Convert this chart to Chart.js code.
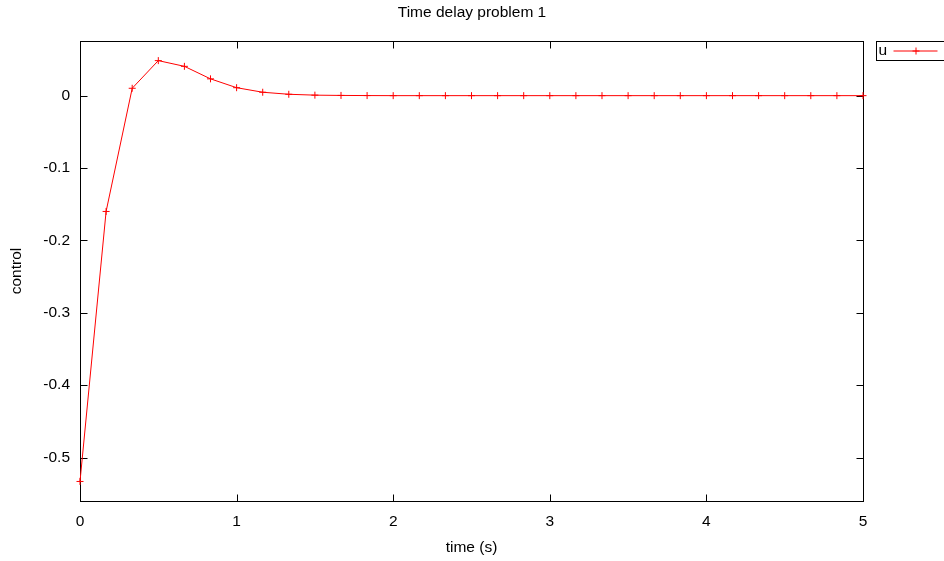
<!DOCTYPE html>
<html>
<head>
<meta charset="utf-8">
<title>Time delay problem 1</title>
<script src="https://cdn.jsdelivr.net/npm/chart.js@4/dist/chart.umd.min.js"></script>
<style>
  body { margin: 0; background: #fff; }
  canvas { display: block; }
</style>
</head>
<body>
<canvas id="chart" width="944" height="561"></canvas>
<script>
// time (s) of each sample
const timeValues = [
  0, 0.1667, 0.3333, 0.5, 0.6667, 0.8333, 1, 1.1667, 1.3333, 1.5, 1.6667,
  1.8333, 2, 2.1667, 2.3333, 2.5, 2.6667, 2.8333, 3, 3.1667, 3.3333,
  3.5, 3.6667, 3.8333, 4, 4.1667, 4.3333, 4.5, 4.6667, 4.8333, 5
];

// control u
const controlValues = [
  -0.533, -0.160, 0.0102, 0.0484, 0.0405, 0.0232, 0.0110, 0.0047, 0.0019, 0.0007, 0.0003,
  0.0001, 0, 0, 0, 0, 0, 0, 0, 0, 0,
  0, 0, 0, 0, 0, 0, 0, 0, 0, 0
];

const xTicks = [0, 1, 2, 3, 4, 5];
const yTicks = [0, -0.1, -0.2, -0.3, -0.4, -0.5];

const seriesLabel = 'u';
const FONT = { family: "'Liberation Sans', Arial, sans-serif", size: 15.5 };

document.addEventListener('DOMContentLoaded', () => {
  const canvas = document.getElementById('chart');

  // gnuplot style frame with inward ticks on all four sides
  const framePlugin = {
    id: 'frame',
    beforeDatasetsDraw(chart) {
      const ctx = chart.ctx;
      const a = chart.chartArea;
      const xs = chart.scales.x;
      const ys = chart.scales.y;
      const L = Math.round(a.left) + 0.5, R = Math.round(a.right) + 0.5;
      const T = Math.round(a.top) + 0.5, B = Math.round(a.bottom) + 0.5;
      ctx.save();
      ctx.strokeStyle = '#000';
      ctx.lineWidth = 1;
      ctx.strokeRect(L, T, R - L, B - T);
      ctx.beginPath();
      xs.ticks.forEach(t => {
        const px = Math.round(xs.getPixelForValue(t.value)) + 0.5;
        ctx.moveTo(px, B); ctx.lineTo(px, B - 7);
        ctx.moveTo(px, T); ctx.lineTo(px, T + 7);
      });
      ys.ticks.forEach(t => {
        const py = Math.round(ys.getPixelForValue(t.value)) + 0.5;
        ctx.moveTo(L, py); ctx.lineTo(L + 7, py);
        ctx.moveTo(R, py); ctx.lineTo(R - 7, py);
      });
      ctx.stroke();
      ctx.restore();
    },
    afterDraw(chart) {
      // key box outside the plot, top right
      const ctx = chart.ctx;
      const a = chart.chartArea;
      const ds = chart.data.datasets[0];
      const bx = Math.round(a.right) + 13.5;
      const by = Math.round(a.top) + 0.5;
      const midY = by + 9;
      ctx.save();
      ctx.strokeStyle = '#000';
      ctx.lineWidth = 1;
      ctx.strokeRect(bx, by, 120, 19);
      ctx.fillStyle = '#000';
      ctx.font = FONT.size + 'px ' + FONT.family;
      ctx.textAlign = 'left';
      ctx.textBaseline = 'middle';
      ctx.fillText(ds.label, bx + 2, midY);
      ctx.strokeStyle = ds.borderColor;
      ctx.beginPath();
      ctx.moveTo(bx + 17, midY + 0.5);
      ctx.lineTo(bx + 61, midY + 0.5);
      ctx.stroke();
      Chart.helpers.drawPoint(ctx, {
        pointStyle: ds.pointStyle,
        radius: ds.pointRadius,
        borderWidth: ds.pointBorderWidth
      }, bx + 39.5, midY + 0.5);
      ctx.restore();
    }
  };

  new Chart(canvas, {
    type: 'line',
    data: {
      datasets: [{
        label: seriesLabel,
        data: timeValues.map((t, i) => ({ x: t, y: controlValues[i] })),
        borderColor: 'rgb(255, 0, 0)',
        borderWidth: 1,
        pointStyle: 'cross',
        pointRadius: 3.5,
        pointBorderWidth: 1,
        pointBorderColor: 'rgb(255, 0, 0)',
        pointBackgroundColor: 'rgb(255, 0, 0)',
        tension: 0,
        clip: false
      }]
    },
    options: {
      responsive: false,
      animation: false,
      devicePixelRatio: 1,
      layout: { padding: 0 },
      plugins: {
        legend: { display: false },
        tooltip: { enabled: false },
        title: {
          display: true,
          text: 'Time delay problem 1',
          color: '#000',
          font: { ...FONT, weight: 'normal', lineHeight: 1.2 },
          padding: { top: 3, bottom: 19.4 }
        }
      },
      scales: {
        x: {
          type: 'linear',
          min: 0,
          max: 5,
          afterBuildTicks: scale => { scale.ticks = xTicks.map(v => ({ value: v })); },
          afterFit: scale => { scale.height = 60; },
          ticks: { color: '#000', font: FONT, padding: 11, maxRotation: 0 },
          grid: { display: false, drawTicks: false },
          border: { display: false },
          title: {
            display: true,
            text: 'time (s)',
            color: '#000',
            font: { ...FONT, lineHeight: 1.2 },
            padding: { top: 0, bottom: 4 }
          }
        },
        y: {
          type: 'linear',
          min: -0.56,
          max: 0.0755,
          afterBuildTicks: scale => { scale.ticks = yTicks.map(v => ({ value: v })); },
          afterFit: scale => { scale.width = 80; },
          ticks: { color: '#000', font: FONT, padding: 10 },
          grid: { display: false, drawTicks: false },
          border: { display: false },
          title: {
            display: true,
            text: 'control',
            color: '#000',
            font: { ...FONT, lineHeight: 1.2 },
            padding: { top: 7, bottom: 0 }
          }
        },
        // empty right-hand strip that holds the key, keeps the title centred on the page
        yKey: {
          type: 'linear',
          position: 'right',
          display: true,
          afterFit: scale => { scale.width = 81; },
          ticks: { display: false },
          grid: { display: false, drawTicks: false },
          border: { display: false }
        }
      }
    },
    plugins: [framePlugin]
  });
});
</script>
</body>
</html>
